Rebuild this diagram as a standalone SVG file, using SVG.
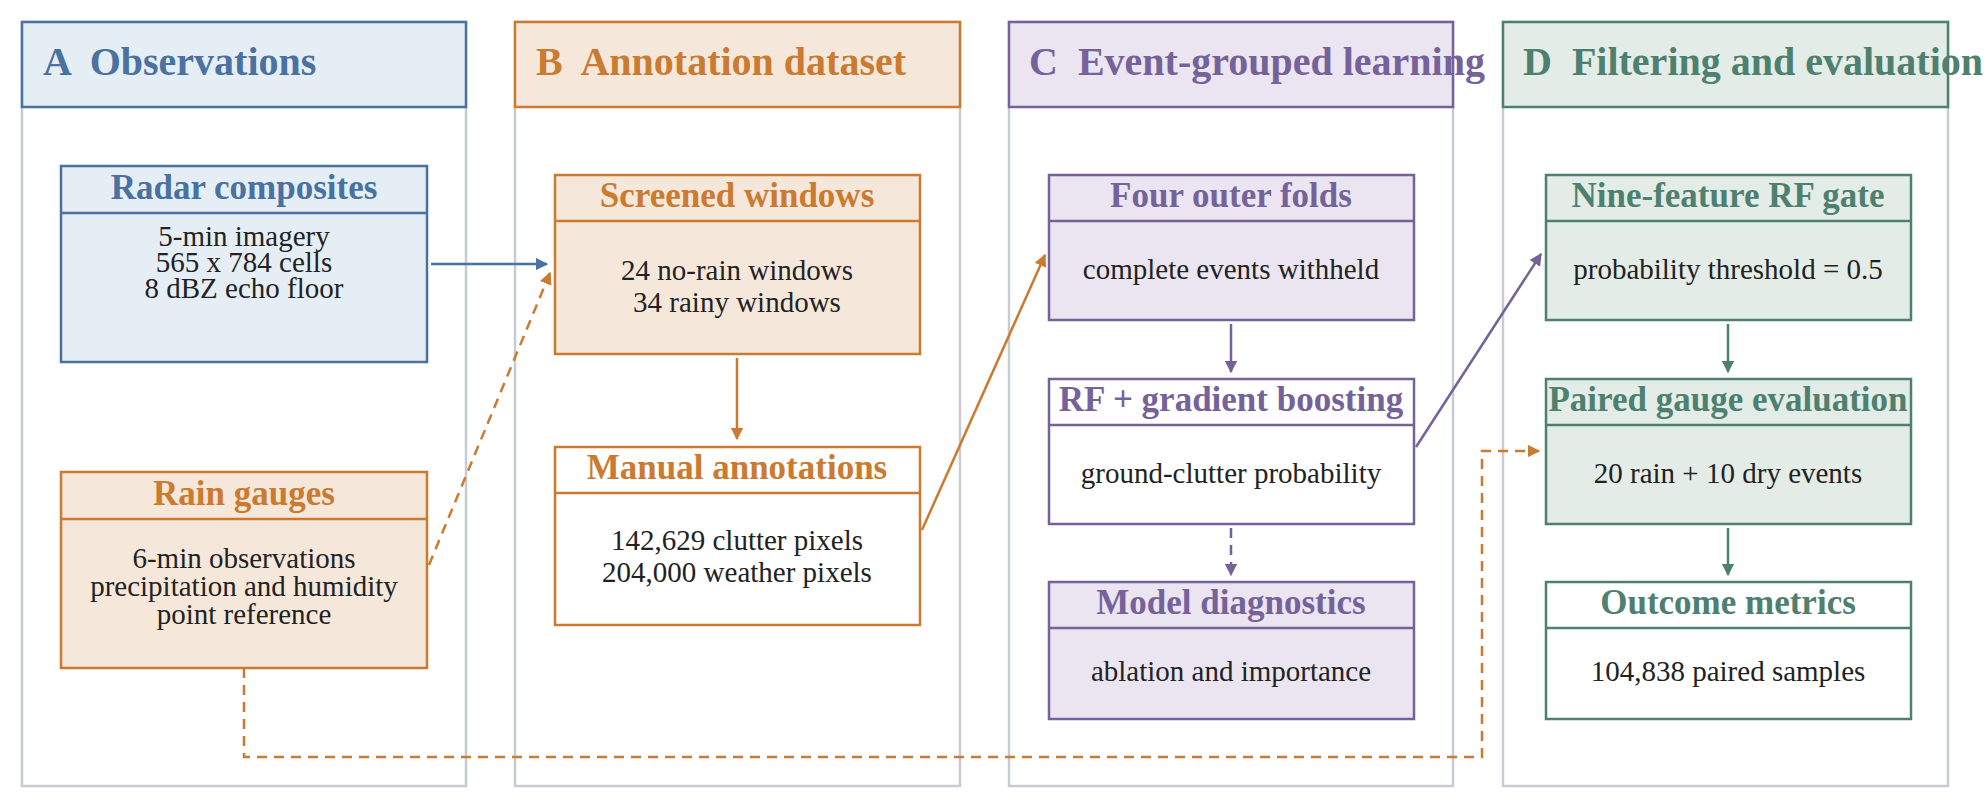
<svg xmlns="http://www.w3.org/2000/svg" width="1988" height="807" viewBox="0 0 1988 807">
<defs>
<style>
text{font-family:"Liberation Serif","Times New Roman",serif;text-anchor:middle}
.h{font-size:40px;font-weight:bold;text-anchor:start;white-space:pre}
.t{font-size:35px;font-weight:bold}
.b{font-size:29px;fill:#222}
.pn{fill:#fff;stroke:#c8ccd2;stroke-width:2.5}
.bl{stroke:#4a72a0;fill:#e6eef5}.blt{fill:#4a72a0}
.or{stroke:#cc7a30;fill:#f5e8da}.ort{fill:#cc7a30}
.pu{stroke:#76629a;fill:#eae5f0}.put{fill:#76629a}
.gr{stroke:#4e8070;fill:#e3ece6}.grt{fill:#4e8070}
rect,line{stroke-width:2.5}
.c{fill:none;stroke-width:2.5}
.d{stroke-dasharray:10,7}
</style>
<marker id="mb" viewBox="0 0 10 10" refX="9" refY="5" markerWidth="5" markerHeight="5" orient="auto"><path d="M0,0L10,5L0,10z" fill="#4a72a0"/></marker>
<marker id="mo" viewBox="0 0 10 10" refX="9" refY="5" markerWidth="5" markerHeight="5" orient="auto"><path d="M0,0L10,5L0,10z" fill="#cc7a30"/></marker>
<marker id="mp" viewBox="0 0 10 10" refX="9" refY="5" markerWidth="5" markerHeight="5" orient="auto"><path d="M0,0L10,5L0,10z" fill="#76629a"/></marker>
<marker id="mg" viewBox="0 0 10 10" refX="9" refY="5" markerWidth="5" markerHeight="5" orient="auto"><path d="M0,0L10,5L0,10z" fill="#4e8070"/></marker>
</defs>
<rect width="1988" height="807" fill="#fff"/>
<g id="panelA"><rect class="pn" x="22" y="22" width="444" height="764"/><rect class="bl" x="22" y="22" width="444" height="85"/><text class="h blt" x="43" y="75">A  Observations</text></g>
<g id="panelB"><rect class="pn" x="515" y="22" width="445" height="764"/><rect class="or" x="515" y="22" width="445" height="85"/><text class="h ort" x="536" y="75">B  Annotation dataset</text></g>
<g id="panelC"><rect class="pn" x="1009" y="22" width="444" height="764"/><rect class="pu" x="1009" y="22" width="444" height="85"/><text class="h put" x="1029" y="75">C  Event-grouped learning</text></g>
<g id="panelD"><rect class="pn" x="1503" y="22" width="445" height="764"/><rect class="gr" x="1503" y="22" width="445" height="85"/><text class="h grt" x="1523" y="75">D  Filtering and evaluation</text></g>

<g id="radar"><rect class="bl" x="61" y="166" width="366" height="196"/><line x1="61" y1="213" x2="427" y2="213" stroke="#4a72a0" stroke-width="1.5"/><text class="t blt" x="244" y="199">Radar composites</text><text class="b" x="244" y="246">5-min imagery</text><text class="b" x="244" y="272">565 x 784 cells</text><text class="b" x="244" y="298">8 dBZ echo floor</text></g>
<g id="gauges"><rect class="or" x="61" y="472" width="366" height="196"/><line x1="61" y1="519" x2="427" y2="519" stroke="#cc7a30" stroke-width="1.5"/><text class="t ort" x="244" y="505">Rain gauges</text><text class="b" x="244" y="568">6-min observations</text><text class="b" x="244" y="596">precipitation and humidity</text><text class="b" x="244" y="624">point reference</text></g>
<g id="screened"><rect class="or" x="555" y="175" width="365" height="179"/><line x1="555" y1="221" x2="920" y2="221" stroke="#cc7a30" stroke-width="1.5"/><text class="t ort" x="737" y="207">Screened windows</text><text class="b" x="737" y="280">24 no-rain windows</text><text class="b" x="737" y="312">34 rainy windows</text></g>
<g id="manual"><rect x="555" y="447" width="365" height="178" fill="#fff" stroke="#cc7a30"/><line x1="555" y1="493" x2="920" y2="493" stroke="#cc7a30" stroke-width="1.5"/><text class="t ort" x="737" y="479">Manual annotations</text><text class="b" x="737" y="550">142,629 clutter pixels</text><text class="b" x="737" y="582">204,000 weather pixels</text></g>
<g id="folds"><rect class="pu" x="1049" y="175" width="365" height="145"/><line x1="1049" y1="221" x2="1414" y2="221" stroke="#76629a" stroke-width="1.5"/><text class="t put" x="1231" y="207">Four outer folds</text><text class="b" x="1231" y="279">complete events withheld</text></g>
<g id="rf"><rect x="1049" y="379" width="365" height="145" fill="#fff" stroke="#76629a"/><line x1="1049" y1="425" x2="1414" y2="425" stroke="#76629a" stroke-width="1.5"/><text class="t put" x="1231" y="411">RF + gradient boosting</text><text class="b" x="1231" y="483">ground-clutter probability</text></g>
<g id="diag"><rect class="pu" x="1049" y="582" width="365" height="137"/><line x1="1049" y1="628" x2="1414" y2="628" stroke="#76629a" stroke-width="1.5"/><text class="t put" x="1231" y="614">Model diagnostics</text><text class="b" x="1231" y="681">ablation and importance</text></g>
<g id="gate"><rect class="gr" x="1546" y="175" width="365" height="145"/><line x1="1546" y1="221" x2="1911" y2="221" stroke="#4e8070" stroke-width="1.5"/><text class="t grt" x="1728" y="207">Nine-feature RF gate</text><text class="b" x="1728" y="279">probability threshold = 0.5</text></g>
<g id="paired"><rect class="gr" x="1546" y="379" width="365" height="145"/><line x1="1546" y1="425" x2="1911" y2="425" stroke="#4e8070" stroke-width="1.5"/><text class="t grt" x="1728" y="411">Paired gauge evaluation</text><text class="b" x="1728" y="483">20 rain + 10 dry events</text></g>
<g id="outcome"><rect x="1546" y="582" width="365" height="137" fill="#fff" stroke="#4e8070"/><line x1="1546" y1="628" x2="1911" y2="628" stroke="#4e8070" stroke-width="1.5"/><text class="t grt" x="1728" y="614">Outcome metrics</text><text class="b" x="1728" y="681">104,838 paired samples</text></g>

<g id="connectors">
<line class="c" x1="431" y1="264" x2="547" y2="264" stroke="#4a72a0" marker-end="url(#mb)"/>
<line class="c d" x1="429" y1="565" x2="550" y2="273" stroke="#cc7a30" marker-end="url(#mo)"/>
<line class="c" x1="737" y1="358" x2="737" y2="439" stroke="#cc7a30" marker-end="url(#mo)"/>
<line class="c" x1="922" y1="530" x2="1045" y2="255" stroke="#cc7a30" marker-end="url(#mo)"/>
<line class="c" x1="1231" y1="324" x2="1231" y2="372" stroke="#76629a" marker-end="url(#mp)"/>
<line class="c d" x1="1231" y1="528" x2="1231" y2="575" stroke="#76629a" marker-end="url(#mp)"/>
<line class="c" x1="1416" y1="447" x2="1541" y2="254" stroke="#76629a" marker-end="url(#mp)"/>
<line class="c" x1="1728" y1="324" x2="1728" y2="372" stroke="#4e8070" marker-end="url(#mg)"/>
<line class="c" x1="1728" y1="528" x2="1728" y2="575" stroke="#4e8070" marker-end="url(#mg)"/>
<path class="c d" d="M244,668V757H1482V451H1539" stroke="#cc7a30" marker-end="url(#mo)"/>
</g>
</svg>
